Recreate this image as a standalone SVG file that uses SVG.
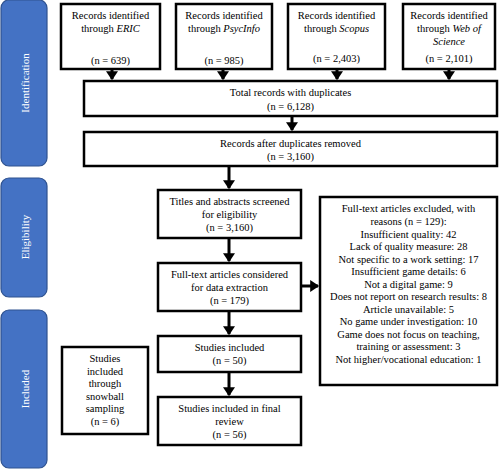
<svg xmlns="http://www.w3.org/2000/svg" width="500" height="470" viewBox="0 0 500 470">
<style>
.side{fill:#4472C4;stroke:#2F528F;stroke-width:1.2}
.st{fill:#fff;font-family:"Liberation Serif","Times New Roman",serif;font-size:11px;text-anchor:middle}
.box{fill:#fff;stroke:#000;stroke-width:2.5}
.t{font-family:"Liberation Serif","Times New Roman",serif;font-size:10.5px;fill:#000;text-anchor:middle}
.ln{stroke:#000;stroke-width:3;fill:none}
</style>
<defs>
<marker id="ah" markerWidth="4" markerHeight="4" refX="2.6" refY="2" orient="auto" markerUnits="strokeWidth">
<path d="M0,0 L3,2 L0,4 Z" fill="#000"/>
</marker>
</defs>
<g id="stage-identification"><rect class="side" x="1" y="0" width="46" height="166" rx="8"/><text class="st" transform="translate(25,83) rotate(-90)" dy="0.35em">Identification</text></g>
<g id="stage-eligibility"><rect class="side" x="1" y="178" width="46" height="119" rx="8"/><text class="st" transform="translate(25,237) rotate(-90)" dy="0.35em">Eligibility</text></g>
<g id="stage-included"><rect class="side" x="1" y="310" width="46" height="158" rx="8"/><text class="st" transform="translate(25,389) rotate(-90)" dy="0.35em">Included</text></g>

<g id="eric"><rect class="box" x="61" y="4" width="99" height="65"/><text class="t" x="110.5" y="19">Records identified</text><text class="t" x="110.5" y="32">through <tspan font-style="italic">ERIC</tspan></text><text class="t" x="110.5" y="64">(n = 639)</text></g>
<g id="psycinfo"><rect class="box" x="176" y="4" width="96" height="65"/><text class="t" x="224" y="19">Records identified</text><text class="t" x="224" y="32">through <tspan font-style="italic">PsycInfo</tspan></text><text class="t" x="224" y="64">(n = 985)</text></g>
<g id="scopus"><rect class="box" x="288" y="4" width="97" height="65"/><text class="t" x="336.5" y="19">Records identified</text><text class="t" x="336.5" y="32">through <tspan font-style="italic">Scopus</tspan></text><text class="t" x="336.5" y="62">(n = 2,403)</text></g>
<g id="wos"><rect class="box" x="403" y="4" width="92" height="65"/><text class="t" x="449" y="19">Records identified</text><text class="t" x="449" y="32">through <tspan font-style="italic">Web of</tspan></text><text class="t" x="449" y="45" font-style="italic">Science</text><text class="t" x="449" y="62">(n = 2,101)</text></g>

<g id="total"><rect class="box" x="84" y="81" width="413" height="35"/><text class="t" x="290.5" y="96">Total records with duplicates</text><text class="t" x="290.5" y="110">(n = 6,128)</text></g>
<g id="dedup"><rect class="box" x="84" y="132" width="413" height="34"/><text class="t" x="290.5" y="147">Records after duplicates removed</text><text class="t" x="290.5" y="160">(n = 3,160)</text></g>
<g id="screened"><rect class="box" x="158" y="190" width="143" height="48"/><text class="t" x="229.5" y="205">Titles and abstracts screened</text><text class="t" x="229.5" y="218">for eligibility</text><text class="t" x="229.5" y="231">(n = 3,160)</text></g>
<g id="fulltext"><rect class="box" x="158" y="263" width="143" height="48"/><text class="t" x="229.5" y="278">Full-text articles considered</text><text class="t" x="229.5" y="291">for data extraction</text><text class="t" x="229.5" y="304">(n = 179)</text></g>
<g id="excluded"><rect class="box" x="320" y="197" width="177" height="188"/>
<text class="t" x="408.5" y="212">Full-text articles excluded, with</text>
<text class="t" x="408.5" y="225">reasons (n = 129):</text>
<text class="t" x="408.5" y="237.5">Insufficient quality: 42</text>
<text class="t" x="408.5" y="250">Lack of quality measure: 28</text>
<text class="t" x="408.5" y="262.5">Not specific to a work setting: 17</text>
<text class="t" x="408.5" y="275">Insufficient game details: 6</text>
<text class="t" x="408.5" y="287.5">Not a digital game: 9</text>
<text class="t" x="408.5" y="300">Does not report on research results: 8</text>
<text class="t" x="408.5" y="312.5">Article unavailable: 5</text>
<text class="t" x="408.5" y="325">No game under investigation: 10</text>
<text class="t" x="408.5" y="337.5">Game does not focus on teaching,</text>
<text class="t" x="408.5" y="350">training or assessment: 3</text>
<text class="t" x="408.5" y="362.5">Not higher/vocational education: 1</text>
</g>
<g id="included"><rect class="box" x="158" y="336" width="143" height="36"/><text class="t" x="229.5" y="351">Studies included</text><text class="t" x="229.5" y="364">(n = 50)</text></g>
<g id="final"><rect class="box" x="158" y="397" width="143" height="48"/><text class="t" x="229.5" y="412">Studies included in final</text><text class="t" x="229.5" y="425">review</text><text class="t" x="229.5" y="438">(n = 56)</text></g>
<g id="snowball"><rect class="box" x="62" y="347" width="86" height="87"/><text class="t" x="105" y="362">Studies</text><text class="t" x="105" y="374.5">included</text><text class="t" x="105" y="387">through</text><text class="t" x="105" y="399.5">snowball</text><text class="t" x="105" y="412">sampling</text><text class="t" x="105" y="424.5">(n = 6)</text></g>

<g id="connectors">
<line class="ln" x1="112" y1="70" x2="112" y2="79" marker-end="url(#ah)"/>
<line class="ln" x1="223" y1="70" x2="223" y2="79" marker-end="url(#ah)"/>
<line class="ln" x1="337" y1="70" x2="337" y2="79" marker-end="url(#ah)"/>
<line class="ln" x1="449" y1="70" x2="449" y2="79" marker-end="url(#ah)"/>
<line class="ln" x1="292" y1="117" x2="292" y2="130" marker-end="url(#ah)"/>
<line class="ln" x1="229" y1="167" x2="229" y2="188" marker-end="url(#ah)"/>
<line class="ln" x1="229" y1="239" x2="229" y2="261" marker-end="url(#ah)"/>
<line class="ln" x1="229" y1="312" x2="229" y2="334" marker-end="url(#ah)"/>
<line class="ln" x1="229" y1="373" x2="229" y2="395" marker-end="url(#ah)"/>
<line class="ln" x1="302" y1="286" x2="318" y2="286" marker-end="url(#ah)"/>
</g>
</svg>
